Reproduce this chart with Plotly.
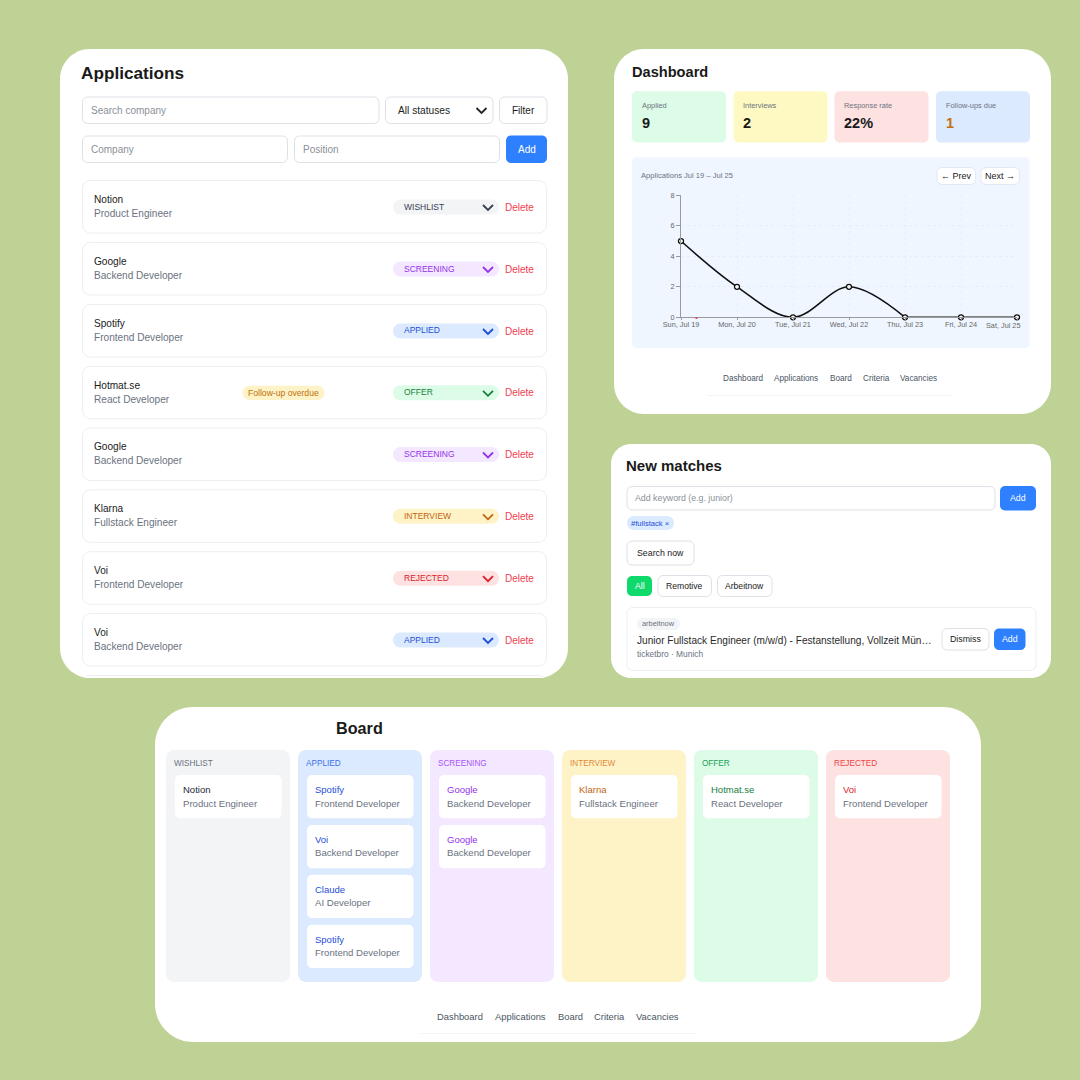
import plotly.graph_objects as go

# ---------- data ----------
days = ["Sun, Jul 19", "Mon, Jul 20", "Tue, Jul 21", "Wed, Jul 22", "Thu, Jul 23", "Fri, Jul 24", "Sat, Jul 25"]
applications = [5, 2, 0, 2, 0, 0, 0]
y_ticks = [0, 2, 4, 6, 8]

stat_labels = ["Applied", "Interviews", "Response rate", "Follow-ups due"]
stat_values = ["9", "2", "22%", "1"]

app_companies = ["Notion", "Google", "Spotify", "Hotmat.se", "Google", "Klarna", "Voi", "Voi"]
app_positions = ["Product Engineer", "Backend Developer", "Frontend Developer", "React Developer",
                 "Backend Developer", "Fullstack Engineer", "Frontend Developer", "Backend Developer"]
app_statuses = ["WISHLIST", "SCREENING", "APPLIED", "OFFER", "SCREENING", "INTERVIEW", "REJECTED", "APPLIED"]

board_statuses = ["WISHLIST", "APPLIED", "SCREENING", "INTERVIEW", "OFFER", "REJECTED"]
board_companies = [["Notion"], ["Spotify", "Voi", "Claude", "Spotify"], ["Google", "Google"],
                   ["Klarna"], ["Hotmat.se"], ["Voi"]]
board_positions = [["Product Engineer"],
                   ["Frontend Developer", "Backend Developer", "AI Developer", "Frontend Developer"],
                   ["Backend Developer", "Backend Developer"],
                   ["Fullstack Engineer"], ["React Developer"], ["Frontend Developer"]]
nav_links = ["Dashboard", "Applications", "Board", "Criteria", "Vacancies"]

# ---------- style ----------
FONT = "Liberation Sans"
BG = "#bed295"
INK = "#1a1a1a"
BLUE = "#2f80ff"
STATUS = {
    "WISHLIST": ("#f3f4f6", "#374151", "#6b7280"),
    "APPLIED": ("#dbeafe", "#1d4ed8", "#3b70ea"),
    "SCREENING": ("#f3e8ff", "#9333ea", "#a855f7"),
    "INTERVIEW": ("#fef3c7", "#c2640f", "#e08a3c"),
    "OFFER": ("#dcfce7", "#15803d", "#22a055"),
    "REJECTED": ("#fee2e2", "#dc1c2c", "#ef4444"),
}
W = H = 1080
shapes, notes = [], []
px = lambda x: x / W
py = lambda y: 1 - y / H


def rrect(x0, y0, x1, y1, r, fill, line=None, lw=1):
    k = 0.45 * r
    path = (
        f"M{px(x0 + r)},{py(y0)} L{px(x1 - r)},{py(y0)} "
        f"C{px(x1 - k)},{py(y0)} {px(x1)},{py(y0 + k)} {px(x1)},{py(y0 + r)} "
        f"L{px(x1)},{py(y1 - r)} "
        f"C{px(x1)},{py(y1 - k)} {px(x1 - k)},{py(y1)} {px(x1 - r)},{py(y1)} "
        f"L{px(x0 + r)},{py(y1)} "
        f"C{px(x0 + k)},{py(y1)} {px(x0)},{py(y1 - k)} {px(x0)},{py(y1 - r)} "
        f"L{px(x0)},{py(y0 + r)} "
        f"C{px(x0)},{py(y0 + k)} {px(x0 + k)},{py(y0)} {px(x0 + r)},{py(y0)} Z"
    )
    shapes.append(dict(type="path", path=path, xref="paper", yref="paper", layer="below", fillcolor=fill,
                       line=dict(color=line if line else "rgba(0,0,0,0)", width=lw if line else 0)))


def chevron(x, y, color, lw=1.6):
    path = f"M{px(x - 5)},{py(y - 2.5)} L{px(x)},{py(y + 2.5)} L{px(x + 5)},{py(y - 2.5)}"
    shapes.append(dict(type="path", path=path, xref="paper", yref="paper", layer="below",
                       fillcolor="rgba(0,0,0,0)", line=dict(color=color, width=lw)))


def hline(x0, x1, y, color):
    shapes.append(dict(type="line", x0=px(x0), x1=px(x1), y0=py(y), y1=py(y), xref="paper", yref="paper",
                       layer="below", line=dict(color=color, width=1)))


def text(x, y, s, size, color=INK, bold=False, anchor="left"):
    if anchor == "left":
        x -= 1.2
    notes.append(dict(x=px(x), y=py(y), xref="paper", yref="paper", showarrow=False, xanchor=anchor,
                      yanchor="middle", borderpad=0, text=f"<b>{s}</b>" if bold else s,
                      font=dict(family=FONT, size=size, color=color)))


def button(x0, y0, x1, y1, label, size=9.5, fill="#ffffff", color=INK, line="#dfe1e8"):
    rrect(x0, y0, x1, y1, 5, fill, line if fill == "#ffffff" else None, 1)
    text((x0 + x1) / 2, (y0 + y1) / 2, label, size, color, anchor="center")


BORDER = "#dfe1e8"
SOFT = "#eceef2"
GRAY = "#6b7280"
HINT = "#8b8f98"
RED = "#f23d4f"

# ---------- panels ----------
rrect(60, 49, 568, 678, 30, "#ffffff")
rrect(614, 49, 1051, 414, 30, "#ffffff")
rrect(611, 444, 1051, 678, 20, "#ffffff")
rrect(155, 707, 981, 1042, 38, "#ffffff")

# ---------- applications ----------
text(81, 73.5, "Applications", 17.2, INK, True)
rrect(82.5, 97, 379, 123.5, 5, "#ffffff", BORDER)
text(91, 110, "Search company", 10, HINT)
rrect(385.5, 97, 493, 123.5, 5, "#ffffff", BORDER)
text(398, 111, "All statuses", 10.2, "#222222")
chevron(481.5, 110.5, "#222222", 1.8)
button(499.5, 97, 547, 123.5, "Filter", 10)
rrect(82.5, 136, 287.5, 162.5, 5, "#ffffff", BORDER)
text(91, 149, "Company", 10, HINT)
rrect(294.5, 136, 499.5, 162.5, 5, "#ffffff", BORDER)
text(303, 149, "Position", 10, HINT)
button(506, 135.5, 547, 163, "Add", 10, BLUE, "#ffffff")

row_tops = [180.5, 242.5, 304.5, 366.3, 428, 489.8, 551.7, 613.5]
for top, company, position, status in zip(row_tops, app_companies, app_positions, app_statuses):
    fill, strong, _ = STATUS[status]
    rrect(82.5, top, 546.5, top + 52.5, 8, "#ffffff", SOFT)
    text(94, top + 19, company, 10.1, INK)
    text(94, top + 33, position, 10.1, GRAY)
    rrect(393, top + 19, 499, top + 34, 7.5, fill)
    text(404.5, top + 26, status, 8.5, strong)
    chevron(488, top + 27, strong, 1.8)
    text(505, top + 26.6, "Delete", 10, RED)
rrect(82.5, 675.5, 546.5, 700, 8, "#ffffff", SOFT)
rrect(60, 678, 568, 704, 0, BG)
rrect(242.5, 385.7, 324.5, 400, 7, "#fef3c7")
text(248, 392.5, "Follow-up overdue", 8.6, "#c2700f")

# ---------- dashboard ----------
text(632, 71.5, "Dashboard", 14.6, INK, True)
stat_x = [632, 733.5, 834.5, 936]
stat_fill = ["#dcfce7", "#fef9c3", "#fee2e2", "#dbeafe"]
stat_col = [INK, INK, INK, "#c2700f"]
for x, f, c, lab, val in zip(stat_x, stat_fill, stat_col, stat_labels, stat_values):
    rrect(x, 91.3, x + 94, 142.5, 5, f)
    text(x + 10, 105.8, lab, 7.4, GRAY)
    text(x + 10, 123, val, 14.5, c, True)
rrect(632, 157.3, 1029.5, 348.3, 5, "#eff6ff")
text(641.5, 175.8, "Applications Jul 19 – Jul 25", 7.6, GRAY)
button(937, 167.5, 975.5, 184.5, "← Prev", 9, line="#e2e8f0")
button(981, 167.5, 1019.5, 184.5, "Next →", 9, line="#e2e8f0")
shapes.append(dict(type="rect", x0=px(695.5), x1=px(697.5), y0=py(319), y1=py(317), xref="paper", yref="paper",
                   layer="above", fillcolor="#f43f5e", line=dict(width=0)))
text(1002.5, 325, days[-1], 7.3, "#666666", anchor="center")
for x, lab in zip([723, 774.3, 830, 863, 900], nav_links):
    text(x, 379, lab, 8.2, "#4b5563")
hline(708, 953, 395.5, "#f1f3f6")

# ---------- new matches ----------
text(626.5, 465.5, "New matches", 15, INK, True)
rrect(627, 486.5, 995, 510, 5, "#ffffff", BORDER)
text(635, 498, "Add keyword (e.g. junior)", 8.8, HINT)
button(1000, 486, 1036, 510.5, "Add", 8.8, BLUE, "#ffffff")
rrect(627, 516, 674, 530, 7, "#dbeafe")
text(631, 523, "#fullstack ×", 7.6, "#1d4ed8")
button(627, 541, 694, 565, "Search now", 8.8)
button(627, 576, 652, 596, "All", 8.6, "#10d96c", "#ffffff")
button(658, 575.5, 711.5, 596.5, "Remotive", 8.6)
button(717.5, 575.5, 772, 596.5, "Arbeitnow", 8.6)
rrect(627, 607.5, 1036, 670.5, 6, "#ffffff", SOFT)
rrect(637, 618, 680, 630, 6, "#f3f4f6")
text(642, 624, "arbeitnow", 7.4, GRAY)
text(637, 640, "Junior Fullstack Engineer (m/w/d) - Festanstellung, Vollzeit Mün…", 10.1, "#2a2a2a")
text(637, 654, "ticketbro · Munich", 8.4, GRAY)
button(942, 628.5, 989, 650, "Dismiss", 8.8)
button(994, 628.5, 1025.5, 650, "Add", 8.8, BLUE, "#ffffff")

# ---------- board ----------
text(336.5, 727.5, "Board", 16.2, INK, True)
col_x = [166, 298, 430, 562, 694, 826]
for x, status, names, roles in zip(col_x, board_statuses, board_companies, board_positions):
    fill, strong, soft = STATUS[status]
    rrect(x, 750, x + 124, 982, 8, fill)
    text(x + 8.5, 763, status, 8.2, soft)
    for i, (name, role) in enumerate(zip(names, roles)):
        top = 775 + i * 49.9
        rrect(x + 9, top, x + 115.5, top + 43.3, 5, "#ffffff")
        text(x + 17, top + 14.3, name, 9.5, "#1f2937" if status == "WISHLIST" else strong)
        text(x + 17, top + 28, role, 9.6, GRAY)
for x, lab in zip([437.5, 495, 558, 594, 636], nav_links):
    text(x, 1016, lab, 9.4, "#4b5563")
hline(421, 695, 1033.5, "#f1f3f6")

# ---------- chart ----------
idx = list(range(len(days)))
fig = go.Figure()
# curved part up to Thursday, then the flat run along the baseline
fig.add_trace(go.Scatter(x=idx[:5], y=applications[:5], mode="lines", cliponaxis=False, hoverinfo="skip",
                         line=dict(color="#111111", width=1.6, shape="spline", smoothing=1.0), showlegend=False))
fig.add_trace(go.Scatter(x=idx[4:], y=applications[4:], mode="lines", cliponaxis=False, hoverinfo="skip",
                         line=dict(color="#111111", width=1.6), showlegend=False))
fig.add_trace(go.Scatter(x=idx, y=applications, mode="markers", cliponaxis=False, showlegend=False,
                         marker=dict(size=5, color="#ffffff", line=dict(color="#111111", width=1.3))))

axis_font = dict(family=FONT, size=7.3, color="#666666")
fig.update_layout(
    width=W, height=H, autosize=False, margin=dict(l=0, r=0, t=0, b=0, pad=0),
    paper_bgcolor=BG, plot_bgcolor="rgba(0,0,0,0)", showlegend=False,
    shapes=shapes, annotations=notes, font=dict(family=FONT),
    xaxis=dict(domain=[px(681), px(1017)], range=[0, 6], tickmode="array", tickvals=idx, automargin=False,
               ticktext=days[:-1] + [""], tickfont=axis_font, ticks="outside", ticklen=2, tickwidth=1,
               ticklabelstandoff=-2,
               tickcolor="#9a9a9a", showline=True, linecolor="#9a9a9a", linewidth=1, showgrid=True,
               gridcolor="rgba(0,0,0,0.03)", griddash="dot", gridwidth=1, zeroline=False, tickangle=0,
               fixedrange=True),
    yaxis=dict(domain=[py(317.3), py(195.3)], range=[0, 8], tickmode="array", tickvals=y_ticks, automargin=False,
               tickfont=axis_font, ticks="outside", ticklen=4, tickwidth=1, tickcolor="#9a9a9a", showline=True,
               linecolor="#9a9a9a", linewidth=1, showgrid=True, gridcolor="rgba(0,0,0,0.03)", griddash="dot",
               gridwidth=1, zeroline=False, fixedrange=True),
)
fig.write_html("out.html", config=dict(displayModeBar=False),
               post_script="document.body.style.margin='0';document.body.style.overflow='hidden';")
